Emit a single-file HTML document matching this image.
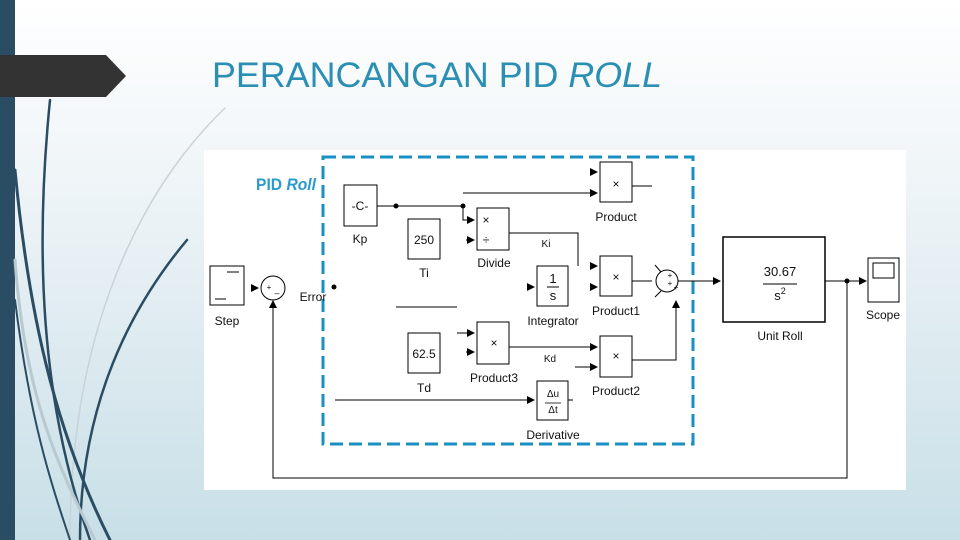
<!DOCTYPE html>
<html><head><meta charset="utf-8"><style>
body{margin:0;width:960px;height:540px;overflow:hidden;background:linear-gradient(#ffffff 0%,#eef4f7 35%,#c8dfe7 100%);font-family:"Liberation Sans",sans-serif}
svg{position:absolute;left:0;top:0}
</style></head><body>
<svg width="960" height="540" viewBox="0 0 960 540" font-family="Liberation Sans, sans-serif">
<defs><marker id="a" markerWidth="8" markerHeight="8" refX="7" refY="4" orient="auto" markerUnits="userSpaceOnUse"><path d="M0,0 L8,4 L0,8z" fill="#000"/></marker></defs>
<rect x="0" y="0" width="15" height="540" fill="#2b4d63"/>
<polygon points="0,55 106,55 126,76 106,97 0,97" fill="#333"/>
<g fill="none" stroke-linecap="round">
<path d="M225,108 C140,190 70,330 70,540" stroke="#c9d3d7" stroke-width="1.5"/>
<path d="M50,100 C35,250 40,400 90,540" stroke="#2b4d63" stroke-width="2.5"/>
<path d="M15,170 C30,330 60,440 110,540" stroke="#2b4d63" stroke-width="3"/>
<path d="M187,240 C120,320 80,420 80,540" stroke="#2b4d63" stroke-width="2.5"/>
<path d="M15,260 C25,400 60,470 95,540" stroke="#b8c9cf" stroke-width="3"/>
<path d="M15,300 C30,420 50,480 70,540" stroke="#2b4d63" stroke-width="2"/>
</g>
<text x="212" y="87" font-size="35" fill="#2a8fb3" textLength="450" lengthAdjust="spacingAndGlyphs">PERANCANGAN PID <tspan font-style="italic">ROLL</tspan></text>
<rect x="204" y="150" width="702" height="340" fill="#fff"/>
<rect x="323" y="157" width="370" height="287" fill="none" stroke="#1a8fc4" stroke-width="3" stroke-dasharray="13,6"/>
<text x="256" y="190" font-size="17" font-weight="bold" fill="#2a9ad0" textLength="60" lengthAdjust="spacingAndGlyphs">PID <tspan font-style="italic">Roll</tspan></text>
<g stroke="#000" fill="#fff" stroke-width="1">
<rect x="210" y="266" width="34" height="39"/>
<rect x="344" y="185" width="33" height="41"/>
<rect x="408" y="219" width="32" height="40"/>
<rect x="477" y="208" width="32" height="42"/>
<rect x="600" y="162" width="32" height="40"/>
<rect x="537" y="266" width="31" height="40"/>
<rect x="600" y="256" width="32" height="40"/>
<rect x="408" y="333" width="32" height="40"/>
<rect x="477" y="322" width="32" height="42"/>
<rect x="600" y="336" width="32" height="41"/>
<rect x="537" y="381" width="31" height="39"/>
<rect x="723" y="237" width="102" height="85" stroke-width="1.5"/>
<rect x="868" y="258" width="31" height="44"/>
<rect x="873" y="263" width="21" height="15"/>
<circle cx="273" cy="288" r="12"/>
<circle cx="667" cy="281" r="11"/>
</g>
<g stroke="#000" fill="none" stroke-width="1">
<path d="M227,272h12M215,299h11"/>
<path d="M377,206H463" /><path d="M463,206v14h11" marker-end="url(#a)"/>
<path d="M463,193H597" marker-end="url(#a)"/>
<path d="M590,172h7" marker-end="url(#a)"/>
<path d="M466,240h8" marker-end="url(#a)"/>
<path d="M509,233H578V266"/>
<path d="M530,287h4" marker-end="url(#a)"/>
<path d="M590,266h7" marker-end="url(#a)"/>
<path d="M590,287h7" marker-end="url(#a)"/>
<path d="M632,186h20M632,281h20"/>
<path d="M396,307h61"/>
<path d="M457,333h17" marker-end="url(#a)"/>
<path d="M466,352h8" marker-end="url(#a)"/>
<path d="M509,347H597" marker-end="url(#a)"/>
<path d="M575,367h22" marker-end="url(#a)"/>
<path d="M632,360H676V301" marker-end="url(#a)"/>
<path d="M335,400H534" marker-end="url(#a)"/>
<path d="M568,400h5"/>
<path d="M678,281H720" marker-end="url(#a)"/>
<path d="M825,281H866" marker-end="url(#a)"/>
<path d="M847,281V478H273V301" marker-end="url(#a)"/>
<path d="M252,288h6" marker-end="url(#a)"/>
<path d="M655,265l6,7M655,297l6,-6"/>
<path d="M547,287h12M763,284h34"/>
</g>
<g fill="#000"><circle cx="396" cy="206" r="2.5"/><circle cx="463" cy="206" r="2.5"/><circle cx="334" cy="287" r="2.5"/><circle cx="847" cy="281" r="2.5"/></g>
<g font-size="12" text-anchor="middle" fill="#111">
<text x="227" y="325">Step</text><text x="313" y="301">Error</text>
<text x="360" y="210">-C-</text><text x="360" y="243">Kp</text>
<text x="424" y="244">250</text><text x="424" y="277">Ti</text>
<text x="486" y="224">×</text><text x="486" y="244">÷</text><text x="494" y="267">Divide</text>
<text x="546" y="247" font-size="10">Ki</text>
<text x="616" y="188">×</text><text x="616" y="221">Product</text>
<text x="553" y="283" font-size="13">1</text><text x="553" y="300" font-size="13">s</text><text x="553" y="325">Integrator</text>
<text x="616" y="281">×</text><text x="616" y="315">Product1</text>
<text x="424" y="358">62.5</text><text x="424" y="392">Td</text>
<text x="494" y="347">×</text><text x="494" y="382">Product3</text>
<text x="550" y="362" font-size="10">Kd</text>
<text x="616" y="360">×</text><text x="616" y="395">Product2</text>
<text x="553" y="397" font-size="10">Δu</text><text x="553" y="413" font-size="10">Δt</text><text x="553" y="439">Derivative</text>
<text x="780" y="276" font-size="13">30.67</text><text x="780" y="300" font-size="13">s<tspan font-size="9" dy="-6">2</tspan></text>
<text x="780" y="340">Unit Roll</text><text x="883" y="319">Scope</text>
<text x="269" y="290" font-size="8">+</text><text x="277" y="296" font-size="9">–</text>
<text x="670" y="278" font-size="8">+</text><text x="670" y="286" font-size="8">+</text><text x="676" y="290" font-size="8">+</text>
</g>
<line x1="545" y1="403" x2="561" y2="403" stroke="#000" stroke-width="0.8"/>
</svg>
</body></html>
